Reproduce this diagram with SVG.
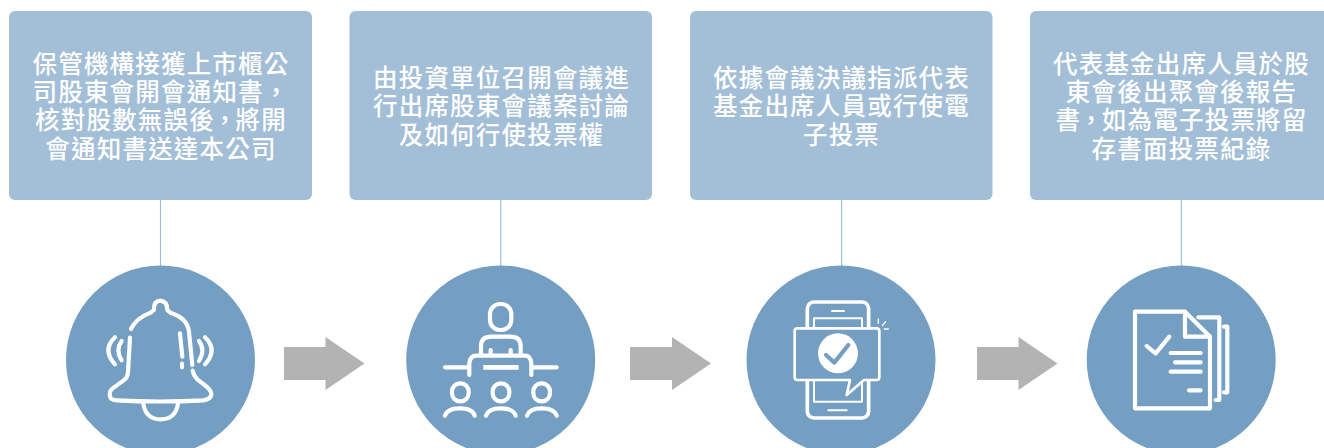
<svg xmlns="http://www.w3.org/2000/svg" width="1324" height="448" viewBox="0 0 1324 448">
<style>
.box{fill:#a3bed7}
.circ{fill:#749fc3}
.t{font-family:"Noto Sans CJK TC","Noto Sans CJK SC",sans-serif;font-size:24.5px;font-weight:500;fill:#fff;text-anchor:middle;letter-spacing:1.2px}
.i{fill:none;stroke:#fff;stroke-width:12.500;stroke-linecap:round;stroke-linejoin:round}
.link{stroke:#a3bed7;stroke-width:1.2;fill:none}
.arr{fill:#b3b3b3}
</style>
<rect width="1324" height="448" fill="#fff"/>
<g id="connectors">
<path class="link" d="M160.500 200V266M500.700 200V266M841.600 200V266M1181.300 200V266"/>
<polygon class="arr" points="284,347 325.500,347 325.500,337 364.500,363.500 325.500,390 325.500,380 284,380"/>
<polygon class="arr" points="630,347 672,347 672,337 711,363.500 672,390 672,380 630,380"/>
<polygon class="arr" points="977,347 1018.500,347 1018.500,337 1057.500,363.500 1018.500,390 1018.500,380 977,380"/>
</g>
<g id="node1">
<rect class="box" x="9" y="11" width="303" height="189" rx="6"/>
<text class="t" x="161" y="72.500">保管機構接獲上市櫃公</text>
<text class="t" x="161" y="100.500">司股東會開會通知書，</text>
<text class="t" x="161" y="129">核對股數無誤後<tspan dx="-2.500">，</tspan><tspan dx="-2.500">將開</tspan></text>
<text class="t" x="161" y="157.500">會通知書送達本公司</text>
<circle class="circ" cx="160.500" cy="360" r="94.500"/>
<g transform="translate(60 260) scale(.3333)">
<path class="i" d="M213 207C225 182 245 168 272 158Q278 152 282 150Q280 124 301 122Q322 124 322 150Q326 154 332 158C362 168 384 185 387 215L397 315"/>
<path class="i" d="M210 233L204 335Q204 352 190 362L158 385Q146 395 150 410Q154 420 170 421Q300 428 430 421Q452 418 454 404Q454 392 440 380L412 358Q400 345 398 332"/>
<path class="i" d="M250 432Q258 478 302 478Q346 478 354 432"/>
<path class="i" d="M360 220L367 290M366 311V322"/>
<path class="i" d="M165 232Q125 270 165 313M185 243Q165 270 185 301M435 232Q475 270 435 313M417 243Q437 270 417 303"/>
</g>
</g>
<g id="node2">
<rect class="box" x="349.500" y="11" width="302.500" height="189" rx="6"/>
<text class="t" x="501.500" y="86.500">由投資單位召開會議進</text>
<text class="t" x="501.500" y="115">行出席股東會議案討論</text>
<text class="t" x="501.500" y="143.500">及如何行使投票權</text>
<circle class="circ" cx="500.700" cy="360" r="94.500"/>
<g transform="translate(400 260) scale(.3333)">
<rect class="i" x="270" y="132" width="64" height="78" rx="30"/>
<path class="i" d="M243 285V258Q243 230 275 230H330Q362 230 362 258V285M272 270V285M332 270V285"/>
<path class="i" d="M135 322H205M208 345V310Q210 287 230 287H375Q392 287 394 310V345M400 322H470"/>
<path class="i" d="M250 322H356" style="stroke-linecap:butt;stroke-width:14"/>
<rect class="i" x="156" y="370" width="50" height="54" rx="24"/>
<rect class="i" x="278" y="370" width="50" height="54" rx="24"/>
<rect class="i" x="400" y="370" width="50" height="54" rx="24"/>
<path class="i" d="M135 467Q142 445 180 445Q218 445 224 467M258 467Q265 445 302 445Q340 445 347 467M381 467Q388 445 425 445Q463 445 470 467"/>
</g>
</g>
<g id="node3">
<rect class="box" x="690" y="11" width="302.500" height="189" rx="6"/>
<text class="t" x="841.500" y="86.500">依據會議決議指派代表</text>
<text class="t" x="841.500" y="115">基金出席人員或行使電</text>
<text class="t" x="841.500" y="143.500">子投票</text>
<circle class="circ" cx="841" cy="360" r="94.500"/>
<g transform="translate(740 260) scale(.3333)">
<rect class="i" x="202" y="126" width="184" height="348" rx="20" style="stroke-width:11"/>
<rect class="i" x="222" y="175" width="144" height="250" style="stroke-width:6"/>
<path class="i" d="M276 153H312M265 451H320" style="stroke-width:6"/>
<path d="M172 205H410Q418 205 418 213V352Q418 360 410 360H372L320 405L330 360H172Q164 360 164 352V213Q164 205 172 205Z" fill="#749fc3" stroke="#fff" stroke-width="8" stroke-linejoin="round"/>
<circle cx="294" cy="280" r="60" fill="#fff"/>
<path class="i" d="M258 285L283 308L325 255" style="stroke:#749fc3"/>
<path class="i" d="M415 177V190M437 185L427 197M433 207H445" style="stroke-width:4"/>
</g>
</g>
<g id="node4">
<rect class="box" x="1030" y="11" width="303" height="189" rx="6"/>
<text class="t" x="1181.500" y="72.500">代表基金出席人員於股</text>
<text class="t" x="1181.500" y="100.500">東會後出聚會後報告</text>
<text class="t" x="1181.500" y="129">書<tspan dx="-2.500">，</tspan><tspan dx="-2.500">如為電子投票將留</tspan></text>
<text class="t" x="1181.500" y="157.500">存書面投票紀錄</text>
<circle class="circ" cx="1181.200" cy="360" r="94.500"/>
<g transform="translate(1080 260) scale(.3333)">
<path class="i" d="M165 155H315L390 230V445H165Z"/>
<path class="i" d="M315 160V230H390"/>
<path class="i" d="M355 172H418V420H407M432 200H442V397H432"/>
<path class="i" d="M200 258L227 280L268 230M272 279H362M285 307H362M272 335H362M327 391H362"/>
</g>
</g>
</svg>
